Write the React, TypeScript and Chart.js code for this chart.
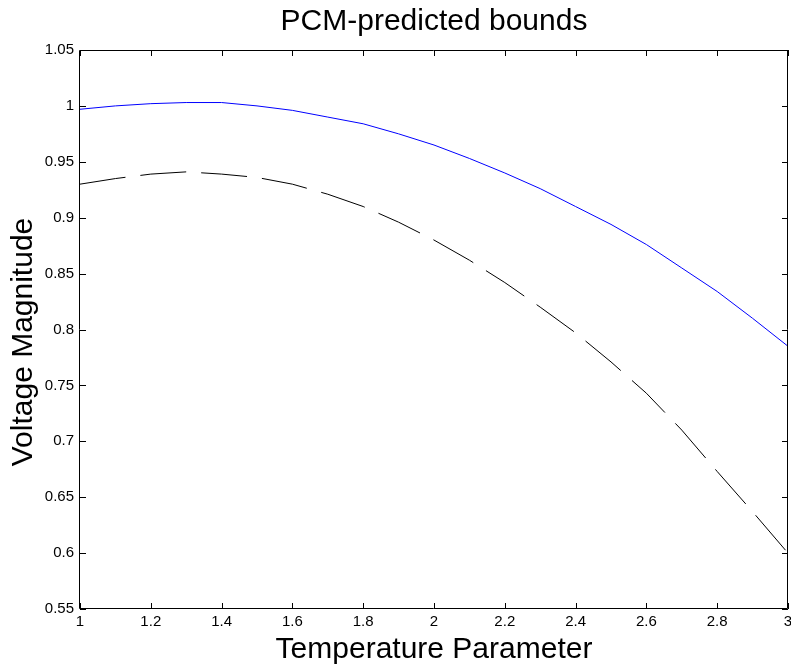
import React, { useEffect, useRef } from "react";
import { Chart, registerables } from "chart.js";

Chart.register(...registerables);

const chartTitle = "PCM-predicted bounds";
const xAxisTitle = "Temperature Parameter";
const yAxisTitle = "Voltage Magnitude";

const temperature = [1.0, 1.1, 1.2, 1.3, 1.4, 1.5, 1.6, 1.7, 1.8, 1.9, 2.0, 2.1, 2.2, 2.3, 2.4, 2.5, 2.6, 2.7, 2.8, 2.9, 3.0];
const upperBound = [0.997, 1.0, 1.002, 1.003, 1.003, 1.0, 0.996, 0.99, 0.984, 0.975, 0.965, 0.953, 0.94, 0.926, 0.91, 0.894, 0.876, 0.855, 0.834, 0.81, 0.785];
const lowerBound = [0.93, 0.935, 0.939, 0.941, 0.939, 0.936, 0.93, 0.921, 0.91, 0.896, 0.88, 0.862, 0.842, 0.82, 0.797, 0.771, 0.743, 0.71, 0.673, 0.637, 0.6];

const xTickLabels = ["1", "1.2", "1.4", "1.6", "1.8", "2", "2.2", "2.4", "2.6", "2.8", "3"];
const yTickLabels = ["0.55", "0.6", "0.65", "0.7", "0.75", "0.8", "0.85", "0.9", "0.95", "1", "1.05"];

const FONT = "'Liberation Sans', Arial, Helvetica, sans-serif";

const fmt = (v: number) => String(Number(v.toFixed(3)));

const boxPlugin = {
  id: "matlabBox",
  afterDatasetsDraw(chart: any) {
    const { ctx, chartArea } = chart;
    const { left, right, top, bottom } = chartArea;
    const xs = chart.scales.x;
    const ys = chart.scales.y;
    const tl = 6;
    ctx.save();
    ctx.strokeStyle = "#000";
    ctx.lineWidth = 1;
    ctx.beginPath();
    ctx.rect(Math.round(left) - 0.5, Math.round(top) + 0.5, Math.round(right - left), Math.round(bottom - top) - 1);
    ctx.stroke();
    ctx.beginPath();
    xs.ticks.forEach((t: any) => {
      const px = Math.round(xs.getPixelForValue(t.value)) + 0.5;
      ctx.moveTo(px, bottom);
      ctx.lineTo(px, bottom - tl);
      ctx.moveTo(px, top);
      ctx.lineTo(px, top + tl);
    });
    ys.ticks.forEach((t: any) => {
      const py = Math.round(ys.getPixelForValue(t.value)) + 0.5;
      ctx.moveTo(left, py);
      ctx.lineTo(left + tl, py);
      ctx.moveTo(right, py);
      ctx.lineTo(right - tl, py);
    });
    ctx.stroke();
    ctx.restore();
  },
};

export default function App() {
  const ref = useRef<HTMLCanvasElement>(null);
  useEffect(() => {
    if (!ref.current) return;
    const chart = new Chart(ref.current, {
      type: "line",
      data: {
        datasets: [
          {
            label: "upper",
            data: temperature.map((x, i) => ({ x, y: upperBound[i] })),
            borderColor: "#0000ff",
            borderWidth: 1,
            pointRadius: 0,
            tension: 0,
          },
          {
            label: "lower",
            data: temperature.map((x, i) => ({ x, y: lowerBound[i] })),
            borderColor: "#000000",
            borderWidth: 1,
            borderDash: [46, 15],
            pointRadius: 0,
            tension: 0,
          },
        ],
      },
      options: {
        animation: false,
        responsive: false,
        maintainAspectRatio: false,
        layout: { padding: { left: 0, right: 3, top: 0, bottom: 0 } },
        plugins: {
          legend: { display: false },
          tooltip: { enabled: false },
          title: {
            display: true,
            fullSize: false,
            text: chartTitle,
            color: "#000",
            font: { family: FONT, size: 30, weight: "normal", lineHeight: 1 },
            padding: { top: 7, bottom: 13 },
          },
        },
        scales: {
          x: {
            type: "linear",
            min: 1,
            max: 3,
            grid: { display: false, drawTicks: false },
            border: { display: false },
            ticks: {
              stepSize: 0.2,
              padding: 4,
              color: "#000",
              maxRotation: 0,
              autoSkip: false,
              font: { family: FONT, size: 15 },
              callback: (v: any, i: number) => xTickLabels[i] ?? fmt(Number(v)),
            },
            title: {
              display: true,
              text: xAxisTitle,
              color: "#000",
              font: { family: FONT, size: 30, lineHeight: 1 },
              padding: { top: 0, bottom: 1.5 },
            },
            afterFit: (s: any) => {
              s.height = 57;
              s.paddingLeft = 0;
              s.paddingRight = 0;
            },
          },
          y: {
            type: "linear",
            min: 0.55,
            max: 1.05,
            grid: { display: false, drawTicks: false },
            border: { display: false },
            ticks: {
              stepSize: 0.05,
              padding: 6,
              color: "#000",
              autoSkip: false,
              font: { family: FONT, size: 15 },
              callback: (v: any, i: number) => yTickLabels[i] ?? fmt(Number(v)),
            },
            title: {
              display: true,
              text: yAxisTitle + "   ",
              color: "#000",
              font: { family: FONT, size: 30, lineHeight: 1 },
              padding: { top: 8.5, bottom: 0 },
            },
            afterFit: (s: any) => {
              s.width = 80;
              s.paddingTop = 0;
              s.paddingBottom = 0;
            },
          },
        },
      },
      plugins: [boxPlugin],
    } as any);
    return () => chart.destroy();
  }, []);
  return (
    <div style={{ position: "fixed", left: 0, top: 0, width: 791, height: 666, background: "#fff" }}>
      <canvas ref={ref} width={791} height={666} style={{ display: "block" }} />
    </div>
  );
}
